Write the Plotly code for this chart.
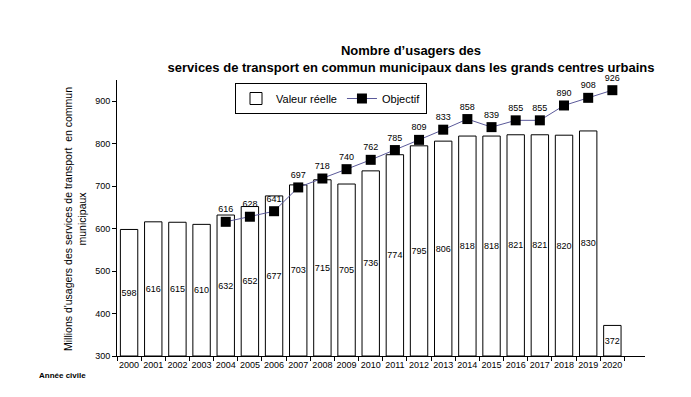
import plotly.graph_objects as go

years = [str(y) for y in range(2000, 2021)]
reel = [598, 616, 615, 610, 632, 652, 677, 703, 715, 705, 736, 774, 795, 806, 818, 818, 821, 821, 820, 830, 372]
obj_years = [str(y) for y in range(2004, 2021)]
objectif = [616, 628, 641, 697, 718, 740, 762, 785, 809, 833, 858, 839, 855, 855, 890, 908, 926]
y_min, y_max = 300, 950

font = "Liberation Sans, Arial, sans-serif"
OFF = 8  # page body margin
W, H = 691 - 2 * OFF, 397 - 2 * OFF
# plot area in page pixels: left 117, right 645, top 80, bottom 356
L, T = 117 - OFF, 80 - OFF
R, B = W - (645 - OFF), H - (356 - OFF)
PW, PH = W - L - R, H - T - B


def px(xp):
    return (xp - OFF - L) / PW


def py(yp):
    return (H - B - (yp - OFF)) / PH


fig = go.Figure()
fig.add_trace(go.Bar(
    x=years, y=[v - y_min for v in reel], base=y_min, name="Valeur réelle",
    marker=dict(color="white", line=dict(color="black", width=1)),
    text=[str(v) for v in reel], textposition="inside", insidetextanchor="middle",
    textangle=0, textfont=dict(size=9, color="black", family=font),
    constraintext="none",
))
fig.add_trace(go.Scatter(
    x=obj_years, y=objectif, name="Objectif", mode="lines+markers+text",
    line=dict(color="#5b5a9a", width=1),
    marker=dict(symbol="square", size=10, color="black"),
    text=[str(v) for v in objectif], textposition="top center",
    textfont=dict(size=9, color="black", family=font),
    cliponaxis=False,
))

fig.update_layout(
    width=W, height=H,
    margin=dict(l=L, r=R, t=T, b=B, autoexpand=False),
    paper_bgcolor="white", plot_bgcolor="white",
    font=dict(family=font, color="black"),
    bargap=0.28,
    title=dict(
        text="<b>Nombre d’usagers des<br>services de transport en commun municipaux dans les grands centres urbains</b>",
        x=(411 - OFF) / W, xanchor="center", y=1 - 47 / H, yanchor="top",
        font=dict(size=13, family=font, color="black"),
        automargin=False,
    ),
    showlegend=True,
    legend=dict(
        orientation="h", x=px(235), xanchor="left", y=py(83), yanchor="top",
        bordercolor="black", borderwidth=1, bgcolor="white",
        font=dict(size=11, family=font), traceorder="normal",
        itemwidth=30, tracegroupgap=0,
    ),
    xaxis=dict(
        type="category", tickson="boundaries", ticks="outside", ticklen=4,
        tickcolor="black", showline=True, linecolor="black", linewidth=1,
        tickfont=dict(size=9, family=font), showgrid=False, tickangle=0,
        automargin=False,
    ),
    yaxis=dict(
        range=[y_min, y_max], tickvals=[300, 400, 500, 600, 700, 800, 900],
        ticks="outside", ticklen=4, tickcolor="black", showline=True,
        linecolor="black", linewidth=1, showgrid=False, zeroline=False,
        tickfont=dict(size=9, family=font), automargin=False,
    ),
)
fig.add_annotation(
    text="Millions d'usagers des services de transport  en commun<br>municipaux",
    textangle=-90, x=px(75), y=py(219), xref="paper", yref="paper",
    xanchor="center", yanchor="middle", showarrow=False,
    font=dict(size=10.5, family=font, color="black"),
)
fig.add_annotation(
    text="<b>Année civile</b>", x=px(62), y=py(375),
    xref="paper", yref="paper", xanchor="center", yanchor="middle",
    showarrow=False, font=dict(size=8, family=font, color="black"),
)

fig.write_html("out.html")
